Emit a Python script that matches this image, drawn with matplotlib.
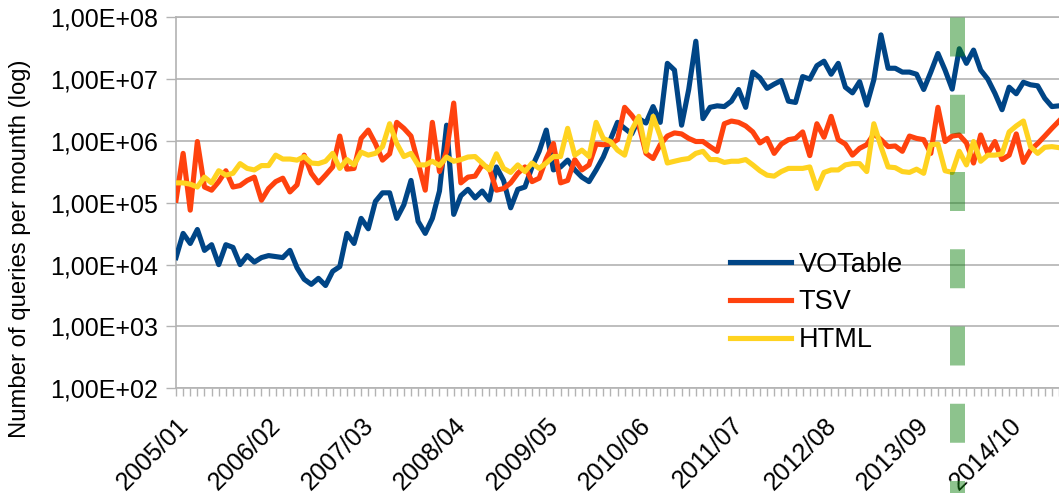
import matplotlib
matplotlib.use("Agg")
import matplotlib.pyplot as plt
import matplotlib.ticker as mticker
import matplotlib.transforms as mtransforms
import numpy as np

plt.rcParams['font.family'] = ['Liberation Sans', 'DejaVu Sans']

# monthly query counts, 2005/01 onwards
votable = [
    1.3e4, 3.2e4, 2.2e4, 3.7e4, 1.7e4, 2.1e4, 1.0e4, 2.1e4, 1.9e4, 1.0e4,
    1.4e4, 1.1e4, 1.3e4, 1.4e4, 1.35e4, 1.3e4, 1.7e4, 8.9e3, 5.8e3, 4.8e3,
    6.0e3, 4.6e3, 7.8e3, 9.3e3, 3.2e4, 2.2e4, 5.6e4, 3.8e4, 1.05e5, 1.45e5,
    1.45e5, 5.6e4, 9.3e4, 2.3e5, 5.0e4, 3.2e4, 5.6e4, 1.55e5, 1.8e6, 6.5e4,
    1.3e5, 1.65e5, 1.2e5, 1.55e5, 1.1e5, 3.8e5, 2.3e5, 8.3e4, 1.65e5, 1.8e5,
    3.8e5, 6.8e5, 1.5e6, 3.4e5, 3.8e5, 4.9e5, 3.4e5, 2.6e5, 2.2e5, 3.4e5,
    5.5e5, 1.05e6, 2.0e6, 1.6e6, 1.3e6, 2.3e6, 1.95e6, 3.6e6, 2.0e6, 1.8e7,
    1.4e7, 1.8e6, 6.8e6, 4.1e7, 2.3e6, 3.5e6, 3.7e6, 3.6e6, 4.4e6, 6.8e6,
    3.5e6, 1.3e7, 1.05e7, 7.1e6, 8.3e6, 9.5e6, 4.4e6, 4.2e6, 1.1e7, 1.0e7,
    1.65e7, 1.95e7, 1.2e7, 1.8e7, 7.4e6, 6.0e6, 9.1e6, 3.8e6, 9.8e6, 5.2e7,
    1.5e7, 1.5e7, 1.3e7, 1.3e7, 1.2e7, 6.8e6, 1.3e7, 2.6e7, 1.4e7, 6.9e6,
    3.1e7, 1.8e7, 2.95e7, 1.4e7, 1.0e7, 5.9e6, 3.2e6, 7.4e6, 5.8e6, 8.9e6,
    8.1e6, 7.8e6, 4.9e6, 3.6e6, 3.7e6,
]
tsv = [
    1.1e5, 6.3e5, 7.6e4, 9.8e5, 1.8e5, 1.6e5, 2.2e5, 3.3e5, 1.8e5, 1.9e5,
    2.3e5, 2.6e5, 1.1e5, 1.7e5, 2.2e5, 2.5e5, 1.5e5, 1.95e5, 5.9e5, 3.0e5,
    2.1e5, 2.8e5, 3.8e5, 1.2e6, 3.5e5, 3.6e5, 1.1e6, 1.5e6, 9.1e5, 4.9e5,
    6.2e5, 2.0e6, 1.6e6, 1.2e6, 4.4e5, 1.6e5, 2.0e6, 3.2e5, 6.8e5, 4.1e6,
    2.1e5, 2.6e5, 2.7e5, 4.1e5, 3.6e5, 1.6e5, 1.7e5, 2.1e5, 3.0e5, 3.8e5,
    2.2e5, 2.5e5, 5.2e5, 9.1e5, 2.1e5, 2.3e5, 5.0e5, 3.4e5, 4.1e5, 8.9e5,
    8.7e5, 8.9e5, 1.05e6, 3.5e6, 2.6e6, 1.8e6, 6.3e5, 5.2e5, 8.7e5, 1.2e6,
    1.35e6, 1.3e6, 1.1e6, 9.8e5, 9.8e5, 8.1e5, 6.8e5, 1.9e6, 2.1e6, 2.0e6,
    1.75e6, 1.4e6, 9.3e5, 1.1e6, 6.3e5, 8.9e5, 1.05e6, 1.1e6, 1.4e6, 5.8e5,
    1.9e6, 1.15e6, 2.5e6, 1.05e6, 8.9e5, 5.9e5, 7.6e5, 8.7e5, 1.3e6, 1.05e6,
    8.1e5, 8.3e5, 6.8e5, 1.2e6, 1.1e6, 1.05e6, 6.3e5, 3.5e6, 9.8e5, 1.2e6,
    1.25e6, 9.3e5, 4.4e5, 1.25e6, 6.3e5, 9.8e5, 5.0e5, 5.9e5, 1.3e6, 4.5e5,
    7.1e5, 9.1e5, 1.2e6, 1.6e6, 2.1e6,
]
html = [
    2.1e5, 2.1e5, 2.0e5, 1.8e5, 2.6e5, 2.1e5, 3.3e5, 2.8e5, 3.0e5, 4.3e5,
    3.6e5, 3.4e5, 4.0e5, 4.0e5, 5.9e5, 5.1e5, 5.1e5, 4.9e5, 5.6e5, 4.4e5,
    4.3e5, 4.7e5, 6.3e5, 3.6e5, 5.0e5, 4.1e5, 6.6e5, 5.9e5, 6.3e5, 8.1e5,
    1.9e6, 9.1e5, 5.6e5, 6.3e5, 4.1e5, 4.1e5, 4.7e5, 4.0e5, 5.5e5, 4.7e5,
    5.0e5, 5.5e5, 5.6e5, 4.4e5, 3.4e5, 6.2e5, 3.6e5, 3.1e5, 4.1e5, 3.2e5,
    4.4e5, 3.6e5, 4.4e5, 5.6e5, 5.6e5, 1.6e6, 5.9e5, 7.1e5, 5.6e5, 2.0e6,
    1.1e6, 9.8e5, 7.1e5, 5.9e5, 1.5e6, 2.5e6, 6.8e5, 2.5e6, 1.2e6, 4.4e5,
    4.7e5, 5.0e5, 5.2e5, 6.3e5, 6.8e5, 5.0e5, 5.0e5, 4.5e5, 4.7e5, 4.7e5,
    5.0e5, 4.1e5, 3.3e5, 2.8e5, 2.7e5, 3.2e5, 3.6e5, 3.6e5, 3.6e5, 3.8e5,
    1.7e5, 3.1e5, 3.4e5, 3.4e5, 4.1e5, 4.3e5, 4.3e5, 3.2e5, 1.9e6, 8.1e5,
    3.8e5, 3.7e5, 3.2e5, 3.1e5, 3.5e5, 3.0e5, 8.7e5, 8.9e5, 3.3e5, 3.1e5,
    6.8e5, 4.1e5, 9.8e5, 4.7e5, 5.9e5, 5.9e5, 6.2e5, 1.4e6, 1.75e6, 2.1e6,
    8.1e5, 6.3e5, 7.9e5, 8.1e5, 7.8e5,
]
tick_labels = ['2005/01', '2006/02', '2007/03', '2008/04', '2009/05',
               '2010/06', '2011/07', '2012/08', '2013/09', '2014/10']
label_step = 13
highlight_x = 109.7

W, H = 1059, 493
fig = plt.figure(figsize=(W / 100, H / 100), dpi=100)
ax = fig.add_axes([176 / W, 1 - 388.3 / H, (W - 176) / W, 371 / H])

x = np.arange(len(votable))
ax.plot(x, votable, color='#004586', lw=3.7, label='VOTable', solid_joinstyle='round', zorder=3)
ax.plot(x, tsv, color='#ff420e', lw=3.7, label='TSV', solid_joinstyle='round', zorder=3)
ax.plot(x, html, color='#ffd320', lw=3.7, label='HTML', solid_joinstyle='round', zorder=3)

ax.set_yscale('log')
ax.set_ylim(1e2, 1e8)
ax.set_xlim(0, len(votable) - 1)

grid_c = '#b3b3b3'
ax.yaxis.set_major_locator(mticker.LogLocator(base=10, numticks=10))
ax.yaxis.set_minor_locator(mticker.NullLocator())
ax.yaxis.set_major_formatter(mticker.FuncFormatter(
    lambda v, p: '1,00E+%02d' % int(round(np.log10(v)))))
ax.yaxis.grid(True, color=grid_c, lw=1.2)
ax.set_axisbelow(True)

ax.set_xticks(np.arange(0, len(votable), label_step)[:len(tick_labels)])
ax.set_xticklabels(tick_labels, rotation=45, ha='right', va='top', rotation_mode='anchor')
ax.xaxis.set_minor_locator(mticker.MultipleLocator(1))

ax.spines['right'].set_visible(False)
for s in ['left', 'bottom', 'top']:
    ax.spines[s].set_color(grid_c)
    ax.spines[s].set_linewidth(1.2)

ax.tick_params(axis='y', which='major', length=7.5, width=1, color=grid_c, labelsize=18, pad=5.5)
ax.tick_params(axis='x', which='both', length=6, width=1, color=grid_c, labelsize=18, pad=12)

fig.text(20 / W, 1 - 249 / H, 'Number of queries per mounth (log)', rotation=90,
         ha='center', va='center', fontsize=17.2)

ax.legend(loc='upper left', bbox_to_anchor=(0.627, 0.368), frameon=False,
          fontsize=19.5, handlelength=2.25, handletextpad=0.3, labelspacing=0.43,
          borderpad=0, borderaxespad=0)

trans = mtransforms.blended_transform_factory(ax.transData, ax.transAxes)
ax.plot([highlight_x, highlight_x], [1, -0.3], transform=trans, clip_on=False,
        color=(0.05, 0.5, 0.05), alpha=0.47, lw=10.8, dashes=(2.6, 2.55),
        dash_capstyle='butt', zorder=5)

fig.savefig('out.png', dpi=100)
